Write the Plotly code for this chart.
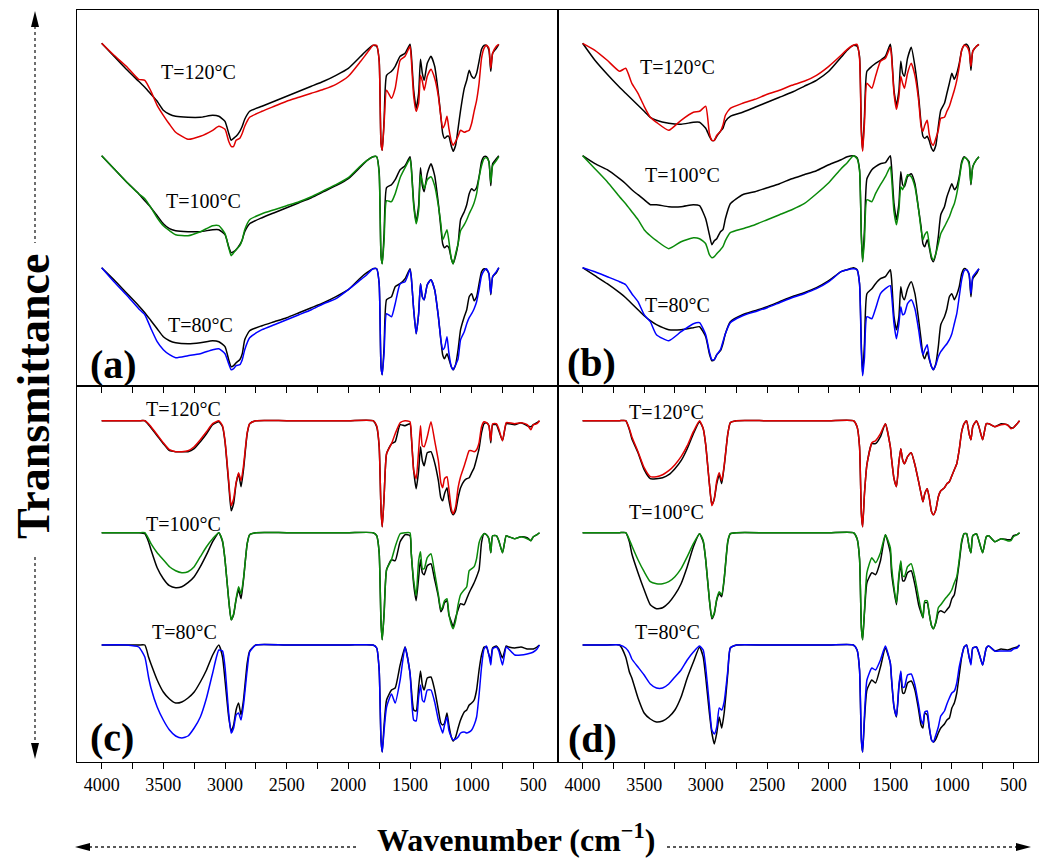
import plotly.graph_objects as go

# ---------------- data ----------------
# wavenumber grids (cm-1)
TOP_WN = [4000, 3900, 3800, 3700, 3650, 3600, 3550, 3500, 3450, 3400,
          3300, 3200, 3100, 3050, 3000, 2970, 2950, 2930, 2910, 2880,
          2860, 2840, 2800, 2700, 2600, 2500, 2400, 2300, 2200, 2100,
          2000, 1900, 1850, 1800, 1770, 1750, 1735, 1725, 1710, 1690,
          1650, 1620, 1580, 1540, 1500, 1490, 1470, 1450, 1430, 1415,
          1400, 1385, 1360, 1330, 1300, 1270, 1250, 1235, 1220, 1200,
          1185, 1165, 1150, 1130, 1110, 1090, 1060, 1040, 1020, 1000,
          980, 960, 940, 920, 900, 880, 860, 845, 830, 800,
          780]

BOT_WN = [4000, 3800, 3700, 3650, 3620, 3600, 3550, 3500, 3450, 3400,
          3350, 3300, 3250, 3200, 3150, 3100, 3050, 3020, 3000, 2970,
          2950, 2930, 2910, 2890, 2870, 2850, 2820, 2800, 2750, 2500,
          2000,
          1800, 1770, 1750, 1735, 1725, 1710, 1690, 1650, 1620, 1580,
          1540, 1500, 1490, 1470, 1450, 1430, 1415, 1400, 1385, 1360,
          1330, 1300, 1270, 1250, 1235, 1220, 1200, 1185, 1165, 1150,
          1130, 1110, 1090, 1060, 1040, 1020, 1000, 980, 960, 940,
          920, 900, 880, 860, 845, 830, 800, 780, 750, 720,
          700, 650, 600, 550, 520, 500, 470, 450]

# absorption depth below each spectrum's baseline (a.u.)
# panel (a)
A120_K = [0, 13, 26, 38, 44, 51, 58, 67, 71, 73,
          74, 74, 72, 73, 78, 90, 97, 95, 93, 88,
          83, 76, 68, 63, 58, 53, 48, 43, 38, 32,
          25, 13, 7, 2, 3, 17, 100, 107, 77, 32,
          28, 23, 13, 10, 1, 10, 47, 65, 50, 16,
          30, 37, 20, 13, 23, 50, 73, 90, 95, 93,
          93, 103, 108, 102, 85, 67, 45, 37, 27, 33,
          35, 30, 18, 6, 2, 2, 7, 28, 10, 5,
          1]
A120_C = [0, 12, 23, 36, 37, 48, 62, 72, 81, 89,
          96, 93, 87, 83, 86, 98, 103, 103, 97, 95,
          90, 83, 74, 68, 63, 58, 54, 50, 46, 41,
          33, 18, 10, 2, 2, 18, 100, 107, 80, 47,
          55, 45, 17, 13, 3, 15, 53, 68, 60, 32,
          38, 47, 33, 26, 35, 53, 73, 85, 82, 73,
          85, 98, 102, 98, 93, 87, 89, 88, 87, 80,
          68, 57, 40, 15, 5, 2, 5, 25, 10, 3,
          1]
A100_K = [0, 13, 26, 38, 45, 52, 60, 68, 73, 75,
          76, 76, 74, 74, 79, 91, 97, 96, 94, 89,
          84, 76, 68, 62, 57, 52, 47, 42, 36, 30,
          23, 11, 5, 1, 1, 16, 100, 108, 78, 32,
          29, 24, 14, 10, 1, 10, 47, 66, 50, 12,
          30, 36, 18, 8, 20, 48, 72, 88, 92, 90,
          92, 103, 108, 100, 88, 64, 56, 49, 38, 33,
          35, 32, 21, 6, 1, 1, 6, 30, 8, 3,
          0]
A100_C = [0, 13, 26, 38, 43, 52, 62, 70, 75, 79,
          80, 76, 70, 70, 78, 92, 100, 97, 94, 90,
          84, 74, 64, 58, 54, 50, 46, 41, 35, 29,
          22, 10, 5, 1, 1, 18, 100, 108, 85, 45,
          46, 38, 22, 12, 3, 12, 50, 68, 55, 19,
          26, 33, 24, 21, 30, 50, 68, 84, 80, 74,
          85, 103, 108, 98, 88, 75, 69, 64, 58, 53,
          47, 38, 22, 10, 3, 2, 6, 27, 10, 5,
          1]
A80_K = [0, 12, 25, 38, 45, 53, 61, 69, 73, 75,
         76, 75, 73, 74, 79, 92, 99, 98, 95, 92,
         86, 72, 63, 58, 54, 50, 45, 40, 35, 29,
         22, 10, 5, 1, 1, 16, 99, 107, 79, 32,
         29, 19, 16, 11, 1, 9, 42, 66, 46, 16,
         29, 32, 17, 12, 22, 49, 72, 87, 91, 86,
         91, 99, 102, 97, 82, 62, 49, 42, 29, 26,
         33, 29, 16, 4, 1, 2, 6, 27, 9, 5,
         0]
A80_C = [0, 14, 27, 41, 47, 61, 74, 82, 87, 90,
         88, 86, 82, 81, 86, 96, 102, 101, 98, 97,
         92, 82, 70, 62, 57, 52, 47, 42, 36, 31,
         22, 12, 7, 1, 1, 16, 99, 107, 85, 46,
         49, 36, 16, 14, 2, 9, 42, 66, 46, 16,
         29, 32, 17, 12, 22, 49, 72, 82, 80, 69,
         85, 99, 102, 97, 91, 72, 64, 56, 50, 46,
         41, 34, 22, 8, 3, 1, 6, 26, 9, 4,
         0]

# panel (b)
B120_K = [0, 17, 31, 44, 50, 56, 62, 68, 74, 77,
          80, 81, 79, 79, 85, 93, 97, 97, 93, 88,
          85, 78, 73, 69, 64, 59, 54, 49, 43, 37,
          28, 14, 7, 2, 3, 13, 87, 107, 73, 28,
          23, 20, 17, 13, 1, 10, 47, 62, 47, 18,
          30, 33, 15, 4, 23, 53, 80, 93, 95, 93,
          97, 105, 108, 102, 83, 67, 60, 50, 40, 30,
          36, 30, 20, 7, 2, 1, 5, 27, 8, 3,
          1]
B120_C = [0, 7, 17, 28, 25, 40, 50, 63, 74, 79,
          87, 77, 69, 68, 63, 90, 97, 97, 92, 88,
          82, 72, 65, 60, 56, 51, 47, 42, 38, 32,
          23, 12, 6, 2, 1, 15, 90, 108, 80, 40,
          45, 33, 18, 15, 4, 13, 50, 66, 53, 33,
          40, 45, 30, 20, 32, 57, 83, 88, 82, 77,
          90, 100, 102, 95, 87, 75, 74, 68, 63, 55,
          47, 37, 23, 7, 2, 3, 8, 23, 8, 3,
          1]
B100_K = [0, 8, 14, 23, 28, 34, 39, 44, 49, 49,
          51, 51, 49, 50, 63, 79, 89, 85, 83, 76,
          74, 63, 48, 39, 36, 32, 28, 23, 19, 15,
          9, 4, 1, 0, 2, 14, 81, 106, 74, 23,
          14, 11, 8, 7, 0, 11, 48, 64, 48, 16,
          29, 31, 21, 18, 28, 54, 71, 88, 91, 84,
          91, 103, 106, 98, 81, 59, 51, 41, 34, 28,
          34, 31, 21, 6, 1, 3, 6, 29, 11, 4,
          1]
B100_C = [0, 13, 26, 41, 48, 56, 64, 74, 80, 85,
          93, 86, 82, 83, 88, 99, 102, 101, 98, 94,
          91, 85, 77, 73, 69, 64, 59, 54, 48, 38,
          27, 13, 7, 0, 3, 15, 81, 106, 85, 44,
          46, 38, 29, 21, 11, 21, 56, 69, 54, 31,
          34, 29, 19, 21, 31, 54, 74, 84, 79, 76,
          88, 101, 104, 98, 88, 78, 71, 66, 61, 54,
          48, 38, 24, 8, 2, 3, 8, 28, 11, 4,
          1]
B80_K = [0, 8, 16, 25, 30, 36, 42, 48, 53, 57,
         62, 62, 60, 59, 69, 86, 93, 92, 87, 83,
         76, 66, 54, 47, 43, 39, 34, 29, 25, 20,
         13, 4, 2, 0, 2, 16, 79, 107, 76, 26,
         21, 16, 11, 9, 2, 11, 49, 62, 49, 19,
         29, 32, 21, 14, 26, 52, 72, 87, 91, 84,
         91, 99, 102, 96, 79, 57, 49, 41, 29, 26,
         32, 27, 19, 6, 1, 2, 7, 29, 11, 6,
         1]
B80_C = [0, 4, 9, 14, 17, 26, 34, 47, 54, 67,
         73, 64, 56, 55, 67, 84, 92, 92, 87, 82,
         74, 66, 55, 48, 44, 40, 35, 30, 26, 21,
         14, 4, 2, 1, 2, 16, 85, 108, 90, 49,
         51, 41, 26, 21, 18, 26, 56, 71, 56, 39,
         47, 46, 36, 32, 41, 62, 79, 87, 82, 77,
         89, 99, 102, 97, 89, 84, 79, 76, 72, 66,
         56, 46, 29, 12, 3, 2, 6, 26, 9, 4,
         1]

# panel (c)
C120_K = [0, 0, 0, 0, 4, 7, 15, 23, 30, 31,
          31, 31, 28, 21, 13, 4, 1, 6, 21, 63,
          90, 83, 63, 53, 66, 49, 13, 3, 0, 0,
          0,
          0, 6, 26, 89, 106, 76, 33, 23, 21, 4,
          5, 3, 15, 50, 68, 50, 26, 40, 45, 32,
          31, 42, 60, 77, 80, 73, 67, 79, 91, 94,
          90, 77, 67, 60, 58, 57, 52, 47, 38, 28,
          12, 3, 2, 5, 22, 4, 4, 10, 20, 3,
          3, 4, 2, 5, 6, 4, 2, 0]
C120_C = [0, 0, 0, 0, 3, 6, 14, 22, 29, 31,
          31, 30, 26, 19, 11, 3, 0, 5, 20, 60,
          85, 78, 62, 52, 60, 45, 12, 3, 0, 0,
          0,
          0, 5, 25, 89, 106, 76, 33, 23, 13, 2,
          0, 1, 12, 50, 58, 30, 5, 25, 26, 16,
          1, 20, 40, 62, 67, 58, 56, 68, 88, 93,
          86, 67, 56, 45, 37, 30, 30, 31, 29, 22,
          6, 1, 2, 5, 20, 3, 3, 8, 20, 2,
          2, 3, 2, 4, 9, 4, 3, 0]
C100_K = [0, 0, 0, 1, 9, 17, 35, 46, 53, 55,
          54, 50, 44, 34, 22, 9, 0, 9, 27, 67,
          87, 82, 67, 57, 66, 47, 11, 2, 0, 0,
          0,
          0, 3, 20, 90, 107, 80, 37, 27, 28, 9,
          2, 3, 20, 52, 68, 45, 27, 40, 42, 33,
          31, 47, 64, 79, 76, 70, 68, 82, 89, 94,
          85, 77, 71, 72, 66, 60, 55, 50, 44, 37,
          10, 1, 2, 6, 20, 3, 3, 8, 20, 3,
          4, 6, 4, 5, 8, 4, 2, 0]
C100_C = [0, 0, 0, 0, 6, 11, 20, 27, 34, 38,
          40, 39, 34, 24, 14, 6, 0, 8, 27, 67,
          87, 81, 66, 54, 61, 46, 11, 2, 0, 0,
          0,
          0, 3, 20, 90, 107, 82, 37, 27, 14, 1,
          0, 0, 20, 48, 63, 28, 19, 36, 36, 25,
          21, 40, 62, 77, 74, 68, 66, 81, 92, 96,
          88, 72, 62, 57, 54, 38, 36, 34, 26, 10,
          4, 1, 2, 6, 20, 3, 3, 8, 20, 3,
          4, 6, 4, 6, 8, 4, 2, 0]
C80_K = [0, 0, 0, 0, 12, 19, 35, 47, 54, 58,
         57, 53, 47, 37, 25, 10, 0, 12, 35, 72,
         86, 80, 65, 58, 70, 55, 18, 6, 0, 0,
         0,
         0, 3, 25, 95, 107, 80, 55, 45, 43, 20,
         2, 28, 42, 65, 66, 42, 26, 40, 45, 33,
         32, 45, 65, 78, 80, 78, 68, 80, 92, 96,
         92, 83, 75, 67, 65, 60, 58, 55, 45, 25,
         10, 2, 2, 10, 15, 3, 1, 4, 13, 1,
         2, 3, 2, 4, 4, 4, 2, 0]
C80_C = [0, 0, 2, 12, 32, 43, 62, 75, 85, 91,
         93, 91, 83, 72, 53, 28, 5, 6, 22, 68,
         88, 83, 70, 68, 75, 60, 25, 7, 0, 0,
         0,
         0, 3, 25, 95, 107, 85, 62, 49, 58, 35,
         2, 28, 48, 75, 76, 52, 40, 55, 57, 45,
         45, 57, 75, 83, 88, 80, 72, 85, 92, 95,
         94, 92, 88, 87, 88, 87, 85, 80, 72, 50,
         22, 4, 1, 10, 20, 4, 2, 6, 20, 2,
         4, 10, 10, 9, 8, 7, 4, 0]

# panel (d)
D120_K = [0, 0, 0, 0, 9, 18, 32, 49, 58, 58,
          57, 54, 48, 40, 28, 13, 1, 8, 24, 63,
          84, 78, 63, 54, 63, 46, 13, 2, 0, 0,
          0,
          0, 6, 26, 93, 106, 73, 44, 23, 23, 16,
          3, 26, 38, 58, 66, 41, 28, 39, 43, 36,
          32, 44, 61, 73, 81, 73, 68, 76, 91, 94,
          89, 76, 70, 67, 63, 61, 55, 49, 43, 29,
          11, 3, 0, 13, 19, 6, 0, 6, 19, 3,
          3, 6, 3, 4, 7, 7, 3, 0]
D120_C = [0, 0, 0, 0, 8, 16, 31, 47, 56, 56,
          54, 50, 44, 36, 25, 11, 0, 8, 24, 63,
          85, 78, 60, 52, 60, 45, 13, 2, 0, 0,
          0,
          0, 6, 26, 93, 106, 73, 44, 22, 20, 13,
          3, 26, 38, 58, 66, 41, 28, 39, 43, 36,
          32, 44, 61, 73, 81, 73, 68, 76, 91, 94,
          89, 76, 70, 67, 63, 61, 55, 49, 43, 29,
          11, 3, 0, 13, 19, 6, 0, 6, 19, 3,
          3, 6, 4, 4, 8, 7, 3, 0]
D100_K = [0, 0, 0, 0, 9, 21, 40, 57, 72, 76,
          75, 70, 62, 51, 34, 14, 1, 9, 27, 67,
          86, 81, 67, 61, 64, 47, 9, 1, 0, 0,
          0,
          0, 6, 26, 95, 107, 80, 50, 40, 42, 28,
          2, 20, 40, 58, 72, 45, 30, 48, 48, 40,
          38, 52, 72, 80, 85, 70, 70, 80, 93, 96,
          90, 80, 78, 80, 77, 74, 66, 62, 48, 30,
          10, 1, 1, 14, 20, 3, 1, 8, 20, 4,
          3, 9, 6, 7, 7, 3, 2, 0]
D100_C = [0, 0, 0, 0, 7, 13, 27, 39, 49, 51,
          51, 49, 44, 36, 24, 11, 1, 8, 27, 67,
          85, 80, 66, 59, 62, 46, 8, 1, 0, 0,
          0,
          0, 6, 26, 95, 107, 78, 40, 25, 30, 20,
          2, 15, 33, 55, 70, 42, 28, 43, 44, 34,
          31, 45, 65, 78, 85, 68, 68, 80, 93, 96,
          89, 75, 72, 67, 64, 61, 57, 50, 44, 27,
          8, 1, 1, 14, 20, 3, 1, 8, 20, 4,
          3, 9, 6, 8, 8, 4, 2, 0]
D80_K = [0, 0, 0, 12, 27, 33, 53, 68, 74, 77,
         76, 72, 65, 52, 33, 17, 2, 12, 32, 68,
         88, 99, 88, 72, 83, 68, 28, 3, 0, 0,
         0,
         0, 5, 25, 95, 107, 75, 45, 35, 38, 22,
         3, 18, 35, 62, 72, 42, 28, 48, 48, 38,
         36, 45, 65, 80, 83, 68, 70, 82, 95, 97,
         94, 88, 83, 79, 75, 73, 63, 58, 48, 30,
         12, 2, 0, 12, 18, 3, 2, 8, 20, 3,
         1, 6, 4, 5, 4, 3, 2, 0]
D80_C = [0, 0, 0, 3, 8, 14, 22, 30, 39, 43,
         43, 39, 32, 25, 15, 7, 1, 5, 22, 60,
         85, 89, 82, 63, 65, 57, 25, 3, 0, 0,
         0,
         0, 5, 25, 95, 107, 70, 35, 23, 25, 15,
         1, 18, 33, 62, 71, 40, 26, 42, 42, 30,
         29, 40, 60, 75, 79, 67, 66, 80, 95, 97,
         90, 82, 71, 66, 59, 53, 48, 46, 38, 22,
         11, 2, 0, 12, 20, 3, 2, 8, 20, 3,
         1, 6, 6, 6, 6, 4, 3, 0]

TEMPS = ["T=120°C", "T=100°C", "T=80°C"]
PANEL_LABELS = ["(a)", "(b)", "(c)", "(d)"]
X_TICKS = [4000, 3500, 3000, 2500, 2000, 1500, 1000, 500]

# ---------------- figure ----------------
PAGE_W, PAGE_H = 1047, 862
OFF = 8                      # default page margin of the html body
FW, FH = PAGE_W - OFF, PAGE_H - OFF
FONT = "Liberation Serif, Times New Roman, serif"
COL = {"120": "#e00000", "100": "#0a8a0a", "80": "#0000ff"}


def px(x):
    """page pixel x -> paper fraction"""
    return (x - OFF) / FW


def py(y):
    """page pixel y -> paper fraction"""
    return 1 - (y - OFF) / FH


panels = [
    ("a", "", (77, 558), (10, 386), TOP_WN,
     [(A120_K, A120_C, "120"), (A100_K, A100_C, "100"), (A80_K, A80_C, "80")],
     [342.7, 230.3, 118.3]),
    ("b", "2", (558, 1038), (10, 386), TOP_WN,
     [(B120_K, B120_C, "120"), (B100_K, B100_C, "100"), (B80_K, B80_C, "80")],
     [342.7, 230.3, 118.3]),
    ("c", "3", (77, 558), (386, 762), BOT_WN,
     [(C120_K, C120_C, "120"), (C100_K, C100_C, "100"), (C80_K, C80_C, "80")],
     [341.3, 229.3, 117.0]),
    ("d", "4", (558, 1038), (386, 762), BOT_WN,
     [(D120_K, D120_C, "120"), (D100_K, D100_C, "100"), (D80_K, D80_C, "80")],
     [341.3, 229.3, 117.0]),
]

fig = go.Figure()
layout = dict(
    width=FW, height=FH, margin=dict(l=0, r=0, t=0, b=0),
    paper_bgcolor="white", plot_bgcolor="white", showlegend=False,
    font=dict(family=FONT, color="black"),
)

for name, sfx, (x0, x1), (y0, y1), wn, groups, bases in panels:
    bottom_row = y0 > 100
    layout["xaxis" + sfx] = dict(
        domain=[px(x0), px(x1)], range=[4200, 300], anchor="y" + sfx,
        showline=True, mirror=True, linecolor="black", linewidth=1,
        showgrid=False, zeroline=False,
        ticks="outside", ticklen=6, tickwidth=1, tickcolor="black",
        tickmode="array", tickvals=X_TICKS, ticktext=[str(v) for v in X_TICKS],
        minor=dict(ticks="outside", ticklen=6, tickwidth=1, tickcolor="black",
                   dtick=250, tick0=0, showgrid=False),
        showticklabels=bottom_row,
        tickfont=dict(family=FONT, size=18, color="black"),
        fixedrange=True,
    )
    layout["yaxis" + sfx] = dict(
        domain=[py(y1), py(y0)], range=[0, 376], anchor="x" + sfx,
        showline=True, mirror=True, linecolor="black", linewidth=1,
        showgrid=False, zeroline=False, ticks="", showticklabels=False,
        fixedrange=True,
    )
    for (kd, cd, t), base in zip(groups, bases):
        assert len(kd) == len(wn) and len(cd) == len(wn), (name, t, len(kd), len(cd), len(wn))
        fig.add_trace(go.Scatter(
            x=wn, y=[base - v for v in kd], mode="lines",
            line=dict(color="black", width=1.5, shape="spline", smoothing=0.5),
            xaxis="x" + sfx, yaxis="y" + sfx, hoverinfo="skip"))
        fig.add_trace(go.Scatter(
            x=wn, y=[base - v for v in cd], mode="lines",
            line=dict(color=COL[t], width=1.5, shape="spline", smoothing=0.5),
            xaxis="x" + sfx, yaxis="y" + sfx, hoverinfo="skip"))

fig.update_layout(**layout)

annotations = []
temp_pos = {
    "a": [(198, 72), (203, 201), (200, 325)],
    "b": [(677, 67), (682, 175), (677, 305)],
    "c": [(183, 409), (183, 524), (184, 632)],
    "d": [(666, 412), (666, 512), (667, 632)],
}
for key, pts in temp_pos.items():
    for txt, (x, y) in zip(TEMPS, pts):
        annotations.append(dict(
            x=px(x), y=py(y), xref="paper", yref="paper", text=txt,
            showarrow=False, xanchor="center", yanchor="middle",
            font=dict(family=FONT, size=20, color="black")))

label_pos = [(113, 364), (591, 362), (112, 737), (592, 738)]
for txt, (x, y) in zip(PANEL_LABELS, label_pos):
    annotations.append(dict(
        x=px(x), y=py(y), xref="paper", yref="paper", text="<b>" + txt + "</b>",
        showarrow=False, xanchor="center", yanchor="middle",
        font=dict(family=FONT, size=40, color="black")))

annotations.append(dict(
    x=px(34), y=py(397), xref="paper", yref="paper",
    text="<b>Transmittance</b>", textangle=-90, showarrow=False,
    xanchor="center", yanchor="middle",
    font=dict(family=FONT, size=46, color="black")))
annotations.append(dict(
    x=px(516), y=py(838), xref="paper", yref="paper",
    text="<b>Wavenumber (cm<sup>−1</sup>)</b>", showarrow=False,
    xanchor="center", yanchor="middle",
    font=dict(family=FONT, size=32, color="black")))

shapes = []
dot = dict(color="#222222", width=1.3, dash="dot")
shapes.append(dict(type="line", xref="paper", yref="paper",
                   x0=px(35), x1=px(35), y0=py(26), y1=py(243), line=dot))
shapes.append(dict(type="line", xref="paper", yref="paper",
                   x0=px(35), x1=px(35), y0=py(557), y1=py(744), line=dot))
shapes.append(dict(type="path", xref="paper", yref="paper",
                   path=f"M {px(31)},{py(27)} L {px(39)},{py(27)} L {px(35)},{py(11)} Z",
                   fillcolor="black", line=dict(width=0)))
shapes.append(dict(type="path", xref="paper", yref="paper",
                   path=f"M {px(31)},{py(743)} L {px(39)},{py(743)} L {px(35)},{py(759)} Z",
                   fillcolor="black", line=dict(width=0)))
shapes.append(dict(type="line", xref="paper", yref="paper",
                   x0=px(89), x1=px(358), y0=py(847), y1=py(847), line=dot))
shapes.append(dict(type="line", xref="paper", yref="paper",
                   x0=px(667), x1=px(1017), y0=py(847), y1=py(847), line=dot))
shapes.append(dict(type="path", xref="paper", yref="paper",
                   path=f"M {px(90)},{py(843)} L {px(90)},{py(851)} L {px(75)},{py(847)} Z",
                   fillcolor="black", line=dict(width=0)))
shapes.append(dict(type="path", xref="paper", yref="paper",
                   path=f"M {px(1016)},{py(843)} L {px(1016)},{py(851)} L {px(1031)},{py(847)} Z",
                   fillcolor="black", line=dict(width=0)))

fig.update_layout(annotations=annotations, shapes=shapes)
fig.write_html("out.html")
